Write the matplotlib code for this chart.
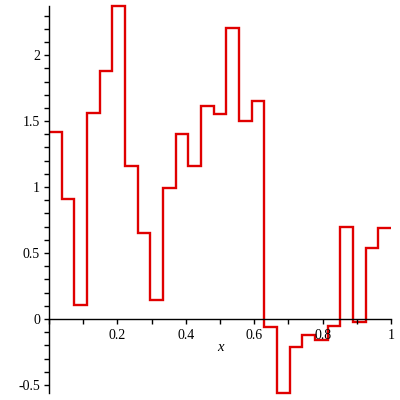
import numpy as np
import matplotlib
matplotlib.use("Agg")
import matplotlib.pyplot as plt
from matplotlib.ticker import MultipleLocator, FixedLocator

plt.rcParams['axes.unicode_minus'] = False
plt.rcParams['font.family'] = ['Liberation Serif', 'DejaVu Serif']

# step values on 27 equal intervals of [0, 1]
n_steps = 27
step_values = [1.42, 0.91, 0.106, 1.562, 1.883, 2.375, 1.162, 0.654, 0.146,
               0.993, 1.405, 1.162, 1.615, 1.557, 2.206, 1.503, 1.655, -0.058,
               -0.559, -0.21, -0.119, -0.159, -0.053, 0.70, -0.02, 0.538, 0.692]
x_ticks = [0.2, 0.4, 0.6, 0.8, 1.0]
x_tick_labels = ["0.2", "0.4", "0.6", "0.8", "1"]
y_ticks = [-0.5, 0, 0.5, 1, 1.5, 2]
y_tick_labels = ["-0.5", "0", "0.5", "1", "1.5", "2"]

edges = np.arange(n_steps + 1) / n_steps

fig = plt.figure(figsize=(4, 4), dpi=100)
ax = fig.add_axes([0.1225, 0.0183, 0.855, 0.9675])

ax.stairs(step_values, edges, baseline=None, color="#e00000", linewidth=1.7,
          clip_on=False)

ax.set_xlim(0, 1)
ax.set_ylim(min(step_values), max(step_values))

# Maple-style axes crossing at the origin
ax.spines['top'].set_visible(False)
ax.spines['right'].set_visible(False)
ax.spines['left'].set_position(('data', 0))
ax.spines['bottom'].set_position(('data', 0))
for s in ('left', 'bottom'):
    ax.spines[s].set_linewidth(1.0)

ax.xaxis.set_major_locator(FixedLocator(x_ticks))
ax.set_xticklabels(x_tick_labels)
ax.xaxis.set_minor_locator(MultipleLocator(0.1))
ax.yaxis.set_major_locator(FixedLocator(y_ticks))
ax.set_yticklabels(y_tick_labels)
ax.yaxis.set_minor_locator(MultipleLocator(0.1))

ax.tick_params(which='both', direction='out', length=3.5, width=1.0,
               labelsize=10, colors='black')
ax.tick_params(axis='x', pad=4)
ax.tick_params(axis='y', pad=3)

ax.text(0.5, -0.22, "x", fontsize=10.5, style='italic', ha='center', va='center')

fig.savefig("out.png", dpi=100, facecolor='white')
